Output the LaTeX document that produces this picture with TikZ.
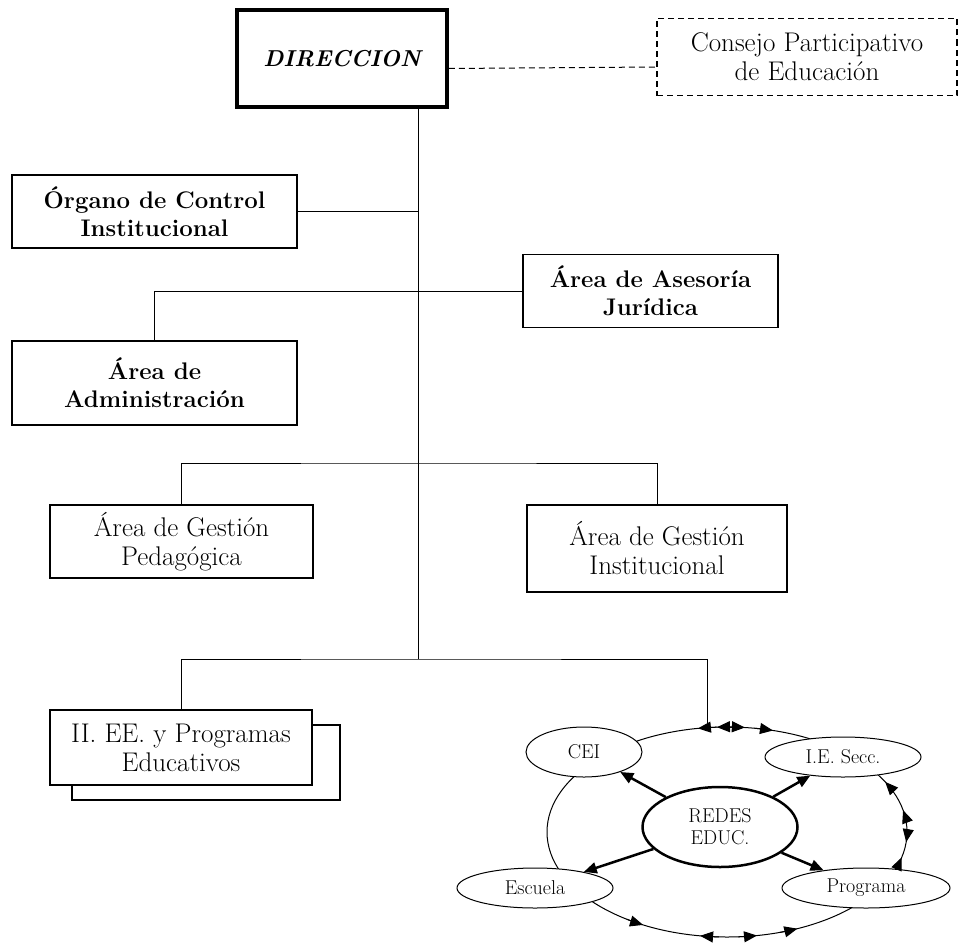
\documentclass[tikz,border=0pt]{standalone}
\usetikzlibrary{arrows.meta,shapes.geometric}
\tikzset{
  ubox/.style={draw, fill=white, align=center, inner sep=2pt, line width=1.1pt,
    font=\fontsize{27}{29}\selectfont},
  boldbox/.style={ubox, font=\fontsize{24}{28}\selectfont\bfseries},
  dirbox/.style={ubox, line width=3.5pt, font=\fontsize{23}{26}\selectfont\bfseries\itshape},
  areabox/.style={ubox, line width=2.8pt},
  netnode/.style={ellipse, draw, fill=white, inner sep=0pt, line width=1pt,
    font=\fontsize{20}{22}\selectfont},
  spoke/.style={line width=2.5pt, -{Triangle[length=13pt,width=11pt]}},
  ringtip/.style={-{Triangle[length=13pt,width=11pt]}},
}

\begin{document}
\begin{tikzpicture}[x=1pt,y=-1pt,line width=1pt]
  \useasboundingbox (0,0) rectangle (960,942);
  % top
  \node[dirbox, minimum width=210, minimum height=97] (dir) at (342,58.5) {DIRECCION};
  \node[ubox, dash pattern=on 6pt off 4pt, minimum width=300, minimum height=77] (cpe) at (807,57)
    {Consejo Participativo\\de Educación};
  % staff units
  \node[boldbox, minimum width=285, minimum height=73] (oci) at (154.5,211.5)
    {Órgano de Control\\Institucional};
  \node[boldbox, minimum width=255, minimum height=73] (asj) at (650.5,291)
    {Área de Asesoría\\Jurídica};
  \node[boldbox, minimum width=285, minimum height=84] (adm) at (154.5,383)
    {Área de\\Administración};
  % line units
  \node[areabox, minimum width=263, minimum height=73] (agp) at (181.5,541.5)
    {Área de Gestión\\Pedagógica};
  \node[areabox, minimum width=260, minimum height=87] (agi) at (657,548.5)
    {Área de Gestión\\Institucional};
  \node[ubox, minimum width=268, minimum height=75] (iee2) at (206,762.5) {};
  \node[ubox, minimum width=262, minimum height=75] (iee) at (181,747.5)
    {II. EE. y Programas\\Educativos};

  \coordinate (branch) at (418,463);
  \coordinate (bus) at (418,659);
  \coordinate (ring) at (727,832);
  \coordinate (rtop) at (707,728);

  \draw[dash pattern=on 6pt off 4pt] ([yshift=-10pt]dir.east) -- ([yshift=-10pt]cpe.west);
  \draw (dir.south -| bus) -- (bus);
  \draw (oci.east) -- (oci.east -| bus);
  \draw (asj.west) -| (adm.north);
  \draw (agp.north) |- (branch) -| (agi.north);
  \draw (iee.north) |- (bus) -| (rtop);

  % educational network
  \draw (ring) ellipse [x radius=180, y radius=105];
  \node[netnode, minimum width=116, minimum height=50] (cei) at (584,752) {CEI};
  \node[netnode, minimum width=156, minimum height=40] (ies) at (843,757) {I.E. Secc.};
  \node[netnode, minimum width=156, minimum height=40] (esc) at (535,888) {Escuela};
  \node[netnode, minimum width=168, minimum height=40] (prg) at (866,888) {Programa};
  \node[netnode, line width=2.5pt, minimum width=155, minimum height=80, align=center]
    (redes) at (720,827) {REDES\\EDUC.};

  \foreach \n in {cei,ies,esc,prg}
    \draw[spoke] (redes) -- (\n);

  \foreach \a/\b in {260.7/266.7, 266.8/272.8, 275.7/269.7, 284.8/278.8,
                     331.5/337.5, 348/354, 5.5/-0.5, 14/20,
                     117.8/123.8, 98.6/92.6, 80.4/86.4, 67/73}
    \draw[ringtip] (ring) ++(\b:180 and 105)
      arc[start angle=\b, end angle=\a, x radius=180, y radius=105];
\end{tikzpicture}
\end{document}
